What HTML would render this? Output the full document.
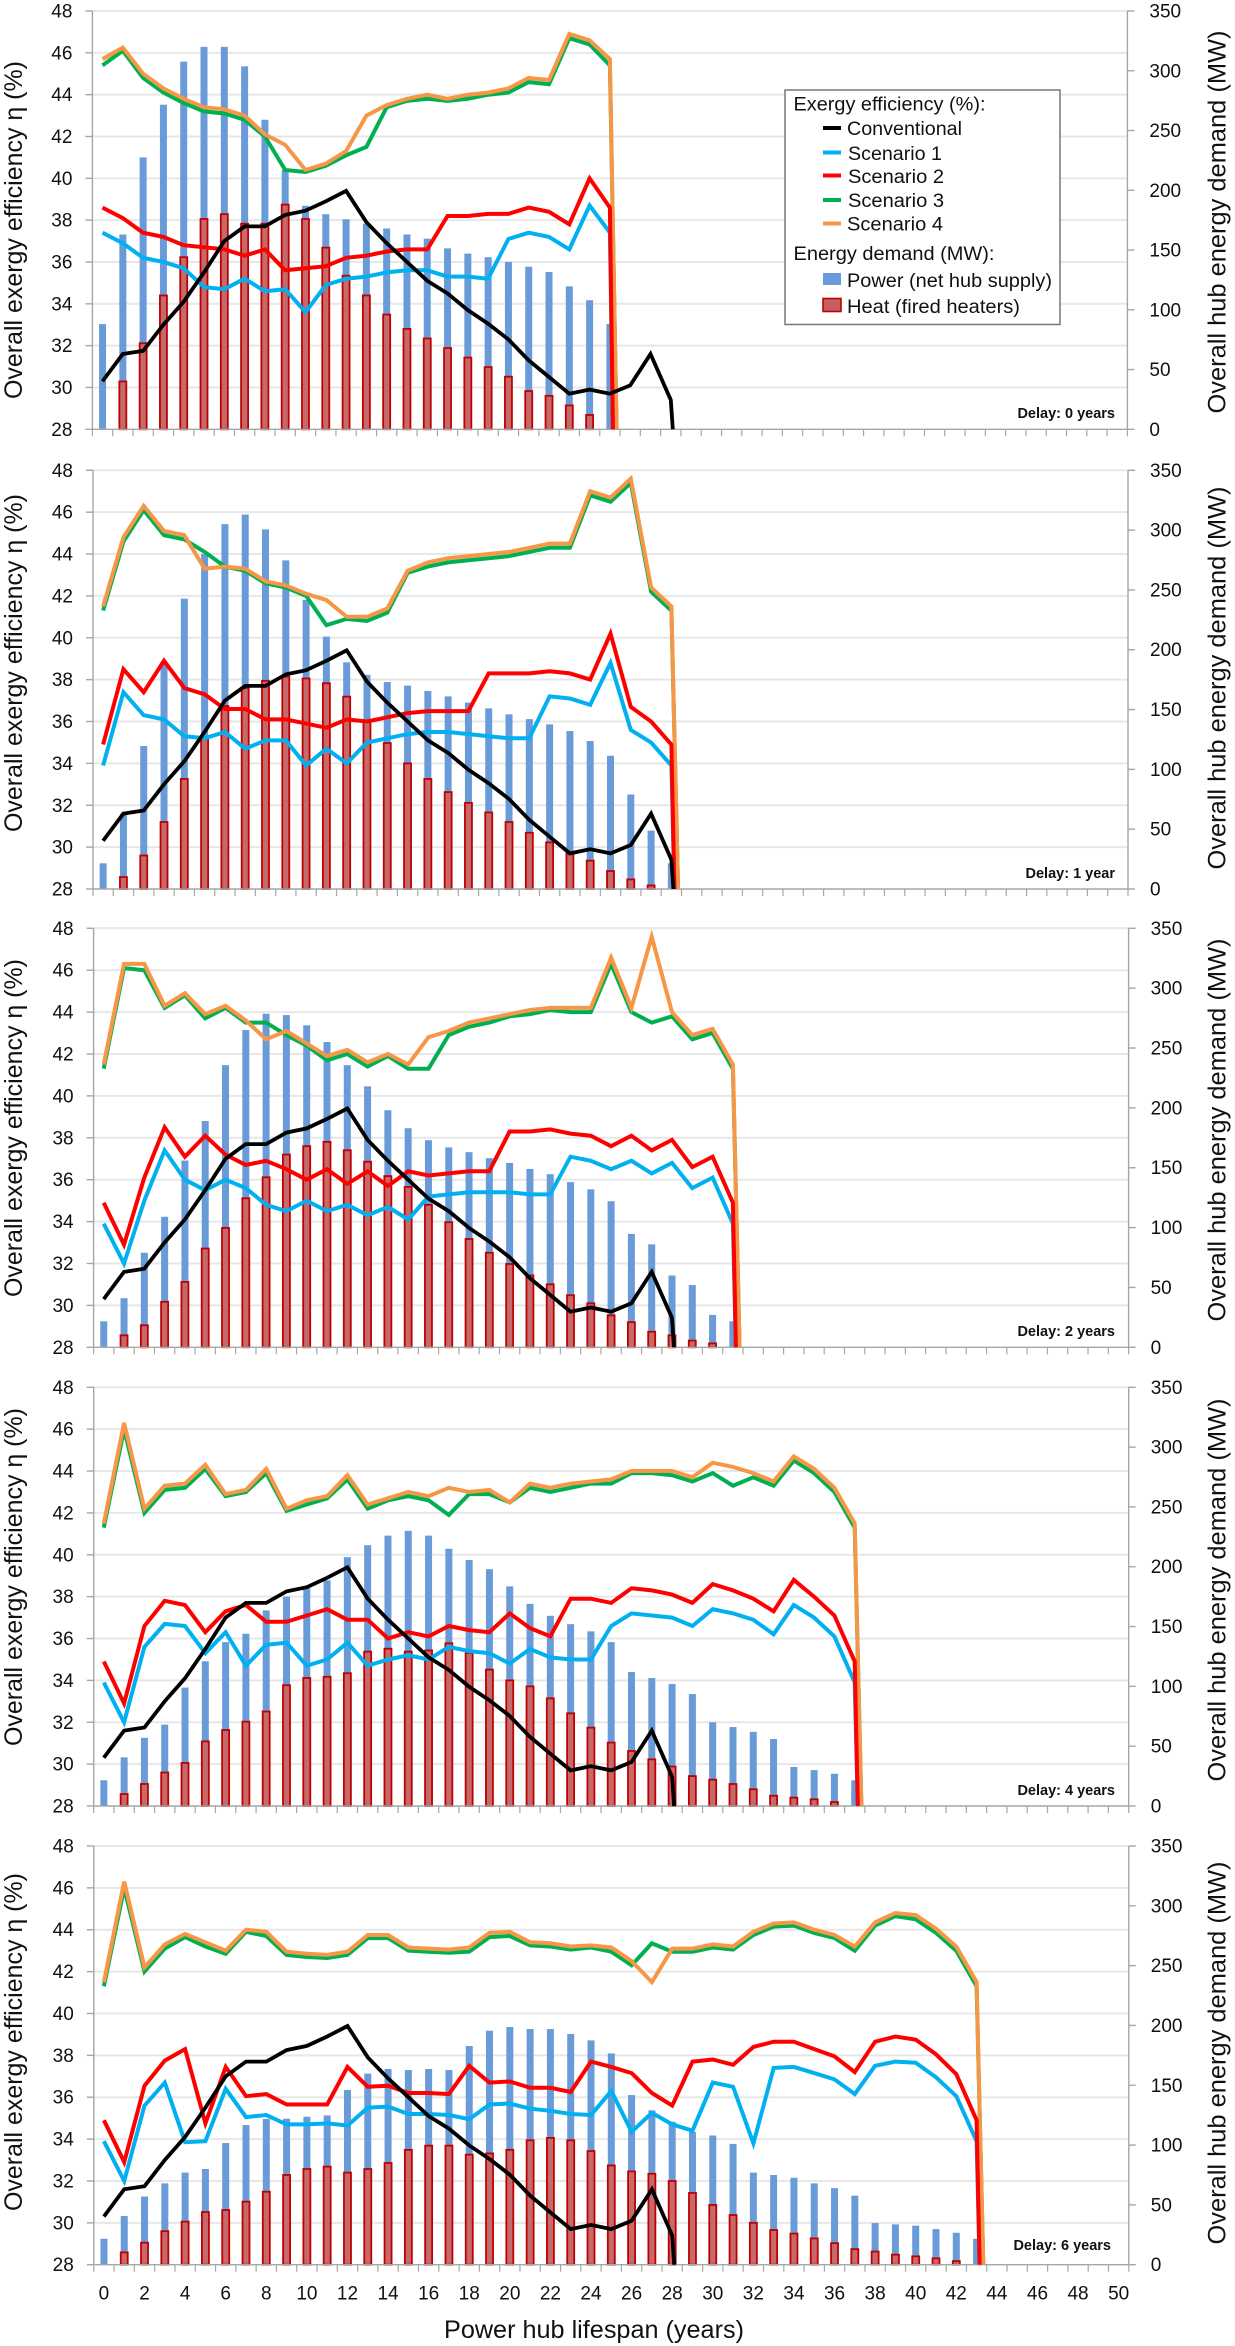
<!DOCTYPE html>
<html lang="en">
<head>
<meta charset="utf-8">
<title>Exergy efficiency and hub energy demand</title>
<style>
html,body{margin:0;padding:0;background:#fff}
svg{display:block}
text{font-family:"Liberation Sans",sans-serif;fill:#111}
.tick{font-size:19px}
.title{font-size:25px}
.delay{font-size:14.5px;font-weight:bold}
.leg{font-size:19px}
</style>
</head>
<body>
<svg id="chart" width="1235" height="2346" viewBox="0 0 1235 2346" xmlns="http://www.w3.org/2000/svg">
  <g id="plots"></g>

  <g>
    <text class="title" transform="translate(22,230) rotate(-90)" text-anchor="middle" textLength="338" lengthAdjust="spacingAndGlyphs">Overall exergy efficiency η (%)</text>
    <text class="title" transform="translate(22,663) rotate(-90)" text-anchor="middle" textLength="338" lengthAdjust="spacingAndGlyphs">Overall exergy efficiency η (%)</text>
    <text class="title" transform="translate(22,1128) rotate(-90)" text-anchor="middle" textLength="338" lengthAdjust="spacingAndGlyphs">Overall exergy efficiency η (%)</text>
    <text class="title" transform="translate(22,1577) rotate(-90)" text-anchor="middle" textLength="338" lengthAdjust="spacingAndGlyphs">Overall exergy efficiency η (%)</text>
    <text class="title" transform="translate(22,2042) rotate(-90)" text-anchor="middle" textLength="338" lengthAdjust="spacingAndGlyphs">Overall exergy efficiency η (%)</text>
  </g>
  <g>
    <text class="title" transform="translate(1225.5,222) rotate(-90)" text-anchor="middle" textLength="383" lengthAdjust="spacingAndGlyphs">Overall hub energy demand (MW)</text>
    <text class="title" transform="translate(1225.5,678) rotate(-90)" text-anchor="middle" textLength="383" lengthAdjust="spacingAndGlyphs">Overall hub energy demand (MW)</text>
    <text class="title" transform="translate(1225.5,1130) rotate(-90)" text-anchor="middle" textLength="383" lengthAdjust="spacingAndGlyphs">Overall hub energy demand (MW)</text>
    <text class="title" transform="translate(1225.5,1590) rotate(-90)" text-anchor="middle" textLength="383" lengthAdjust="spacingAndGlyphs">Overall hub energy demand (MW)</text>
    <text class="title" transform="translate(1225.5,2053) rotate(-90)" text-anchor="middle" textLength="383" lengthAdjust="spacingAndGlyphs">Overall hub energy demand (MW)</text>
  </g>

  <g>
    <text class="delay" x="1115" y="418" text-anchor="end">Delay: 0 years</text>
    <text class="delay" x="1115" y="878" text-anchor="end">Delay: 1 year</text>
    <text class="delay" x="1115" y="1336" text-anchor="end">Delay: 2 years</text>
    <text class="delay" x="1115" y="1795" text-anchor="end">Delay: 4 years</text>
    <text class="delay" x="1111" y="2250" text-anchor="end">Delay: 6 years</text>
  </g>

  <text class="title" x="594" y="2338" text-anchor="middle" textLength="300" lengthAdjust="spacingAndGlyphs">Power hub lifespan (years)</text>

  <g>
    <rect x="785" y="90" width="275" height="234.5" fill="#fff" stroke="#777" stroke-width="1.5"/>
    <text class="leg" x="793.5" y="110.5" textLength="192" lengthAdjust="spacingAndGlyphs">Exergy efficiency (%):</text>
    <rect x="823" y="126" width="18" height="4" fill="#000"/>
    <text class="leg" x="847" y="135" textLength="115" lengthAdjust="spacingAndGlyphs">Conventional</text>
    <rect x="823" y="150.5" width="18" height="4" fill="#00b0f0"/>
    <text class="leg" x="848" y="160" textLength="94" lengthAdjust="spacingAndGlyphs">Scenario 1</text>
    <rect x="823" y="173.5" width="18" height="4" fill="#ff0000"/>
    <text class="leg" x="848" y="183" textLength="96" lengthAdjust="spacingAndGlyphs">Scenario 2</text>
    <rect x="823" y="198" width="18" height="4" fill="#00b050"/>
    <text class="leg" x="848" y="207" textLength="96" lengthAdjust="spacingAndGlyphs">Scenario 3</text>
    <rect x="823" y="221.5" width="18" height="4" fill="#f79646"/>
    <text class="leg" x="847" y="230.5" textLength="96" lengthAdjust="spacingAndGlyphs">Scenario 4</text>
    <text class="leg" x="793.5" y="260" textLength="201" lengthAdjust="spacingAndGlyphs">Energy demand (MW):</text>
    <rect x="823" y="273" width="18" height="12" fill="#6a9bd9"/>
    <text class="leg" x="847" y="287" textLength="205" lengthAdjust="spacingAndGlyphs">Power (net hub supply)</text>
    <rect x="823" y="298.5" width="18" height="13" fill="#c4605f" stroke="#c00000" stroke-width="1.6"/>
    <text class="leg" x="847" y="313" textLength="173" lengthAdjust="spacingAndGlyphs">Heat (fired heaters)</text>
  </g>
</svg>

<script>
// ---------- data ----------
const categoryLabels = ['0','2','4','6','8','10','12','14','16','18','20','22','24','26','28','30','32','34','36','38','40','42','44','46','48','50'];
const categoryValues = [0,2,4,6,8,10,12,14,16,18,20,22,24,26,28,30,32,34,36,38,40,42,44,46,48,50];
const efficiencyTicks = [28,30,32,34,36,38,40,42,44,46,48];
const demandTicks = [0,50,100,150,200,250,300,350];
const categoryCount = 51;

const conventional = [30.3,31.6,31.75,33,34.1,35.5,37,37.7,37.7,38.25,38.45,38.9,39.4,37.9,36.9,36,35.1,34.5,33.7,33.05,32.3,31.3,30.5,29.7,29.9,29.7,30.1,31.6,29.4];

const delay0Scenario1 = [37.4,36.9,36.2,36,35.7,34.8,34.7,35.2,34.6,34.7,33.6,34.9,35.2,35.3,35.5,35.6,35.6,35.3,35.3,35.2,37.1,37.4,37.2,36.6,38.7,37.4];
const delay0Scenario2 = [38.6,38.1,37.4,37.2,36.8,36.7,36.6,36.3,36.6,35.6,35.7,35.8,36.2,36.3,36.5,36.6,36.6,38.2,38.2,38.3,38.3,38.6,38.4,37.8,40,38.6];
const delay0Scenario3 = [45.4,46.1,44.8,44.1,43.6,43.2,43.1,42.8,42,40.4,40.3,40.6,41.1,41.5,43.4,43.7,43.8,43.7,43.8,44,44.1,44.6,44.5,46.7,46.4,45.4];
const delay0Scenario4 = [45.7,46.25,45,44.3,43.8,43.4,43.3,43,42.1,41.6,40.4,40.7,41.3,43,43.5,43.8,44,43.8,44,44.1,44.3,44.8,44.7,46.9,46.6,45.7];
const delay0Power = [88,163,227.5,271.6,307.6,320,320,303.7,259,217,187,180,175.7,172,168,163,159.5,151.4,147,144,140,136,131.6,119.6,108,88];
const delay0Heat = [0,40,72,112,144,176,180,172,172,188,176,152,128.5,112,96,84,76,68,60,52,44,32,28,20,12,0];

const delay1Scenario1 = [33.9,37.4,36.3,36.1,35.3,35.2,35.5,34.7,35.1,35.1,33.9,34.7,34,35,35.2,35.4,35.5,35.5,35.4,35.3,35.2,35.2,37.2,37.1,36.8,38.8,35.6,35,33.9];
const delay1Scenario2 = [34.9,38.5,37.4,38.9,37.6,37.3,36.6,36.6,36.1,36.1,35.9,35.7,36.1,36,36.2,36.4,36.5,36.5,36.5,38.3,38.3,38.3,38.4,38.3,38,40.2,36.7,36,34.9];
const delay1Scenario3 = [41.3,44.6,46.1,44.9,44.7,44.1,43.4,43.2,42.6,42.4,42,40.6,40.9,40.8,41.2,43.1,43.4,43.6,43.7,43.8,43.9,44.1,44.3,44.3,46.8,46.5,47.4,42.2,41.3];
const delay1Scenario4 = [41.5,44.8,46.3,45.1,44.9,43.3,43.4,43.3,42.7,42.5,42.1,41.8,41,41,41.4,43.2,43.6,43.8,43.9,44,44.1,44.3,44.5,44.5,47,46.7,47.6,42.4,41.5];
const delay1Power = [21.5,63,119.5,190,242.7,280,305,313,300.6,274.7,241.6,211,189.5,179,173,170,165.5,161,155.8,151,146,142,137.6,132,123.7,111.4,79,48.8,21.5];
const delay1Heat = [0,10,28,56,92,126,153,168,174,177.5,176,172,160.8,140,122,105,92,81,72,64,56,47,39,29.5,23.7,15,8,3,0];

const delay2Scenario1 = [33.9,32,35,37.4,36,35.5,36,35.6,34.8,34.5,35,34.5,34.8,34.3,34.7,34.1,35.2,35.3,35.4,35.4,35.4,35.3,35.3,37.1,36.9,36.5,36.9,36.3,36.8,35.6,36.1,33.9];
const delay2Scenario2 = [34.9,32.9,36.1,38.5,37.1,38.1,37.2,36.7,36.9,36.5,36,36.5,35.8,36.4,35.7,36.4,36.2,36.3,36.4,36.4,38.3,38.3,38.4,38.2,38.1,37.6,38.1,37.4,37.9,36.6,37.1,34.9];
const delay2Scenario3 = [41.3,46.1,46,44.2,44.8,43.7,44.2,43.5,43.5,42.9,42.4,41.7,42,41.4,41.9,41.3,41.3,42.9,43.3,43.5,43.8,43.9,44.1,44,44,46.3,44,43.5,43.8,42.7,43,41.3];
const delay2Scenario4 = [41.5,46.3,46.3,44.3,44.9,43.9,44.3,43.6,42.7,43.1,42.5,41.9,42.2,41.6,42,41.5,42.8,43.1,43.5,43.7,43.9,44.1,44.2,44.2,44.2,46.6,44.2,47.6,44,42.9,43.2,41.5];
const delay2Power = [21.7,41,79,109,156,189,235.7,265,278.6,277.5,269,255,235.7,218,198,183,173,167,163,158,154,149,144.6,138,132,122,94.7,86,60,52,27,21.7];
const delay2Heat = [0,10,18.4,38,54.6,82.5,99.7,124.5,142,161,168,171.6,164.6,155,143,134,119,104.5,90.5,79,69.6,60,52.6,43.5,36.8,26.7,21,13,10,5.6,3.3,0];

const delay4Scenario1 = [33.9,32,35.6,36.7,36.6,35.3,36.3,34.7,35.7,35.8,34.7,35,35.8,34.7,35,35.2,35,35.6,35.4,35.3,34.8,35.5,35.1,35,35,36.6,37.2,37.1,37,36.6,37.4,37.2,36.9,36.2,37.6,37,36.1,33.9];
const delay4Scenario2 = [34.9,32.9,36.6,37.8,37.6,36.3,37.3,37.6,36.8,36.8,37.1,37.4,36.9,36.9,36,36.3,36.1,36.6,36.4,36.3,37.2,36.5,36.1,37.9,37.9,37.7,38.4,38.3,38.1,37.7,38.6,38.3,37.9,37.3,38.8,38,37.1,34.9];
const delay4Scenario3 = [41.3,46,42,43.1,43.2,44.1,42.8,43,43.9,42.1,42.4,42.7,43.6,42.2,42.6,42.8,42.6,41.9,42.9,42.9,42.5,43.2,43,43.2,43.4,43.4,43.9,43.9,43.8,43.5,43.9,43.3,43.7,43.3,44.5,43.9,43,41.3];
const delay4Scenario4 = [41.5,46.3,42.2,43.3,43.4,44.3,42.9,43.1,44.1,42.2,42.6,42.8,43.8,42.4,42.7,43,42.8,43.2,43,43.1,42.5,43.4,43.2,43.4,43.5,43.6,44,44,44,43.7,44.4,44.2,43.9,43.5,44.7,44.1,43.2,41.5];
const delay4Power = [21.5,40.7,57,68,99,121,137,144,163.5,175,182,188.6,208,218,226,230,226,215,205.6,198,183.6,169,159,152,146,137,112,107,102,93.6,70,66,62,56,32.6,30,27,21.5];
const delay4Heat = [0,10,18.4,28,36,54,63.5,70.5,79,101,107,108,111,129,131.5,129,130,136,128,114,105,100,90,77.5,65.5,53,46,39,33,25,22,18.4,14,8.6,7,5.6,3.3,0];

const delay6Scenario1 = [33.9,32,35.6,36.7,33.85,33.9,36.4,35.05,35.15,34.7,34.7,34.75,34.65,35.5,35.55,35.2,35.2,35.15,34.95,35.65,35.7,35.45,35.35,35.2,35.15,36.3,34.35,35.25,34.7,34.4,36.7,36.5,33.8,37.4,37.45,37.15,36.85,36.15,37.5,37.7,37.65,36.95,36.05,33.9];
const delay6Scenario2 = [34.9,32.9,36.55,37.75,38.3,34.75,37.45,36.05,36.15,35.65,35.65,35.65,37.45,36.5,36.55,36.2,36.2,36.15,37.5,36.7,36.75,36.45,36.45,36.25,37.7,37.45,37.15,36.2,35.6,37.7,37.8,37.55,38.4,38.65,38.65,38.3,37.95,37.2,38.65,38.9,38.75,38.05,37.1,34.9];
const delay6Scenario3 = [41.3,46,42,43.1,43.65,43.2,42.85,43.9,43.7,42.8,42.7,42.65,42.8,43.6,43.6,43,42.95,42.9,42.95,43.65,43.7,43.25,43.2,43.05,43.15,42.95,42.3,43.35,42.95,42.95,43.15,43.05,43.75,44.15,44.2,43.85,43.6,43,44.2,44.65,44.5,43.85,43,41.3];
const delay6Scenario4 = [41.5,46.3,42.2,43.3,43.8,43.4,43,44,43.9,42.95,42.85,42.8,42.95,43.75,43.75,43.15,43.1,43.05,43.15,43.85,43.9,43.4,43.35,43.2,43.25,43.15,42.5,41.5,43.1,43.1,43.3,43.2,43.9,44.3,44.35,44,43.75,43.2,44.35,44.8,44.7,44.05,43.2,41.5];
const delay6Power = [21.7,40.7,57,68,77,80,101.7,116.7,121.8,122,123.7,124.8,146,159.7,163.6,162.7,163.6,162.7,182.8,195.6,198.7,197,197,192.8,187.5,176.6,141.8,129,119.5,111,108,101,77,75,72.7,68,64,57.7,34.8,33.7,32.6,29.8,26.7,21.7];
const delay6Heat = [0,10.3,18.4,28,36,44,45.7,52.7,61,75,80,82,77,80,85,96,99.5,99.5,92,93,96,104,106,104,95,83,78,76,70,60,50,41.5,35,29,26,22,18,13,11,8.4,7,5.3,3,0];

const delays = [0,1,2,4,6];
const scenario1Series = [delay0Scenario1,delay1Scenario1,delay2Scenario1,delay4Scenario1,delay6Scenario1];
const scenario2Series = [delay0Scenario2,delay1Scenario2,delay2Scenario2,delay4Scenario2,delay6Scenario2];
const scenario3Series = [delay0Scenario3,delay1Scenario3,delay2Scenario3,delay4Scenario3,delay6Scenario3];
const scenario4Series = [delay0Scenario4,delay1Scenario4,delay2Scenario4,delay4Scenario4,delay6Scenario4];
const powerSeries = [delay0Power,delay1Power,delay2Power,delay4Power,delay6Power];
const heatSeries = [delay0Heat,delay1Heat,delay2Heat,delay4Heat,delay6Heat];

// ---------- layout ----------
const frames = [
  {left:92.4,top:11,bottom:429.3},
  {left:93,top:470.3,bottom:889},
  {left:93.6,top:928.3,bottom:1347.3},
  {left:93.7,top:1387.3,bottom:1806},
  {left:93.8,top:1846,bottom:2264.7}
];
const plotWidth = 1035;
const NS = 'http://www.w3.org/2000/svg';
const root = document.getElementById('plots');

function make(tag, attrs, parent){
  const el = document.createElementNS(NS, tag);
  for (const k in attrs) el.setAttribute(k, attrs[k]);
  parent.appendChild(el);
  return el;
}
function xAxis(f, v){ return f.left + (v + 0.5) * plotWidth / categoryCount; }
function yLeft(f, v){ return f.bottom - (v - 28) / 20 * (f.bottom - f.top); }
function yRight(f, v){ return f.bottom - v / 350 * (f.bottom - f.top); }

function drawLine(f, parent, values, dropOffset, color, width, name){
  const pts = values.map((v, i) => xAxis(f, i).toFixed(1) + ',' + yLeft(f, v).toFixed(1));
  pts.push(xAxis(f, values.length - 1 + dropOffset).toFixed(1) + ',' + yLeft(f, 28).toFixed(1));
  const el = make('polyline', {points: pts.join(' '), fill: 'none', stroke: color, 'stroke-width': width, 'stroke-linejoin': 'miter'}, parent);
  
  
}

frames.forEach((f, p) => {
  const d = delays[p];
  const g = make('g', {}, root);
  
  
  const right = f.left + plotWidth;

  // gridlines + left ticks
  efficiencyTicks.forEach(t => {
    const y = yLeft(f, t);
    if (t > 28) {
      const grid = make('line', {x1: f.left, x2: right, y1: y, y2: y, stroke: '#e7e7e7', 'stroke-width': 2}, g);
      
      
    }
    const tk = make('line', {x1: f.left - 7, x2: f.left, y1: y, y2: y, stroke: '#a6a6a6', 'stroke-width': 1.4}, g);
    
    
    const lb = make('text', {x: f.left - 20, y: y + 6.5, 'text-anchor': 'end', class: 'tick'}, g);
    lb.textContent = String(t);
    
    
  });

  // right ticks
  demandTicks.forEach(t => {
    const y = yRight(f, t);
    const tk = make('line', {x1: right, x2: right + 7, y1: y, y2: y, stroke: '#a6a6a6', 'stroke-width': 1.4}, g);
    
    
    const lb = make('text', {x: right + 22, y: y + 6.5, class: 'tick'}, g);
    lb.textContent = String(t);
    
    
  });

  // bars
  powerSeries[p].forEach((v, i) => {
    if (v <= 0) return;
    const y = yRight(f, v);
    const bar = make('rect', {x: xAxis(f, i) - 3.5, y: y, width: 7, height: f.bottom - y, fill: '#6a9bd9'}, g);
    
    
  });
  heatSeries[p].forEach((v, i) => {
    if (v <= 0) return;
    const y = yRight(f, v);
    const bar = make('rect', {x: xAxis(f, i) - 3.5, y: y, width: 7, height: f.bottom - y, fill: '#c6696a', stroke: '#c00000', 'stroke-width': 1.8}, g);
    
    
  });

  // axis frame
  const axes = [[f.left, f.top, f.left, f.bottom], [right, f.top, right, f.bottom], [f.left, f.bottom, right, f.bottom]];
  axes.forEach(a => {
    const ax = make('line', {x1: a[0], y1: a[1], x2: a[2], y2: a[3], stroke: '#a6a6a6', 'stroke-width': 1.4}, g);
    
    
  });
  for (let i = 0; i <= categoryCount; i++) {
    const x = f.left + i * plotWidth / categoryCount;
    const tk = make('line', {x1: x, x2: x, y1: f.bottom, y2: f.bottom + 7, stroke: '#a6a6a6', 'stroke-width': 1.2}, g);
    
    
  }

  // series
  drawLine(f, g, scenario3Series[p], 0.33, '#00b050', 4, 'line-scenario-3');
  drawLine(f, g, scenario4Series[p], 0.33, '#f79646', 4, 'line-scenario-4');
  drawLine(f, g, scenario1Series[p], 0.15, '#00b0f0', 4, 'line-scenario-1');
  drawLine(f, g, scenario2Series[p], 0.15, '#ff0000', 4, 'line-scenario-2');
  drawLine(f, g, conventional, 0.1, '#000000', 3.8, 'line-conventional');

  // category labels only under the last panel
  if (p === frames.length - 1) {
    categoryValues.forEach((v, i) => {
      const lb = make('text', {x: xAxis(f, v), y: f.bottom + 35, 'text-anchor': 'middle', class: 'tick'}, g);
      lb.textContent = categoryLabels[i];
      
      
    });
  }
});
</script>
</body>
</html>
